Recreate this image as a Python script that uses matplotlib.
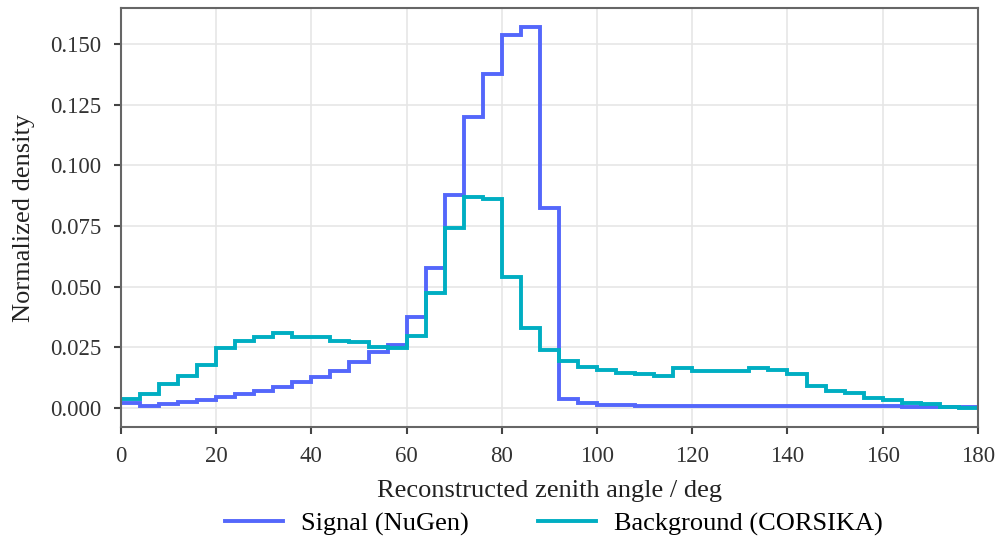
import numpy as np
import matplotlib
matplotlib.use('Agg')
import matplotlib.pyplot as plt

##------------data-----------------##
edges = np.arange(0, 184, 4)  # 4 deg bins, 0..180

signal = [0.0019, 0.0008, 0.0015, 0.0023, 0.0034, 0.0044, 0.0056, 0.0070, 0.0085, 0.0106,
          0.0126, 0.0154, 0.0188, 0.0232, 0.0260, 0.0376, 0.0576, 0.0880, 0.1200, 0.1379,
          0.1540, 0.1571, 0.0825, 0.0037, 0.0019, 0.0012, 0.0011, 0.0010, 0.0010, 0.0009,
          0.0010, 0.0010, 0.0010, 0.0010, 0.0010, 0.0009, 0.0009, 0.0008, 0.0008, 0.0007,
          0.0007, 0.0006, 0.0005, 0.0003, 0.0002]

background = [0.0037, 0.0056, 0.0098, 0.0133, 0.0179, 0.0249, 0.0277, 0.0291, 0.0308, 0.0292,
              0.0294, 0.0276, 0.0271, 0.0253, 0.0246, 0.0297, 0.0473, 0.0743, 0.0871, 0.0860,
              0.0541, 0.0328, 0.0237, 0.0192, 0.0170, 0.0157, 0.0143, 0.0141, 0.0132, 0.0163,
              0.0151, 0.0154, 0.0154, 0.0165, 0.0158, 0.0139, 0.0091, 0.0071, 0.0063, 0.0041,
              0.0032, 0.0022, 0.0016, 0.0004, 0.0001]

labels = ['Signal (NuGen)', 'Background (CORSIKA)']
colors = ['#5467fb', '#00aec2']

##------------figure-----------------##
plt.rcParams['font.family'] = ['Liberation Serif', 'DejaVu Serif']
plt.rcParams['font.size'] = 16.5
lab_fs = 19

fig = plt.figure(figsize=(10.03, 5.39), dpi=100)
ax = fig.add_axes([0.1206, 0.208, 0.8544, 0.777])

for vals, lab, col in zip([signal, background], labels, colors):
    ax.stairs(vals, edges, color=col, lw=2.8, label=lab, baseline=None)

ax.set_xlim(0, 180)
ax.set_ylim(-0.0078, 0.1649)
ax.set_xticks(np.arange(0, 200, 20))
ax.set_yticks(np.arange(0, 0.16, 0.025))
ax.yaxis.set_major_formatter(matplotlib.ticker.FormatStrFormatter('%.3f'))
ax.grid(True, color='#e6e6e6', lw=1.2)
ax.set_axisbelow(True)
for s in ax.spines.values():
    s.set_color('#666666')
    s.set_linewidth(1.5)
ax.tick_params(direction='out', length=5, width=1.5, color='#444444', labelcolor='#333333', pad=9)

ax.set_xlabel('Reconstructed zenith angle / deg', color='#222222', fontsize=lab_fs, labelpad=9)
ax.set_ylabel('Normalized density', color='#222222', fontsize=lab_fs, labelpad=11)

ax.legend(loc='center', ncol=2, frameon=False, bbox_to_anchor=(0.505, -0.232),
          fontsize=lab_fs, handlelength=2.2, handletextpad=0.7, columnspacing=2.6,
          borderpad=0)

plt.savefig('out.png', dpi=100)
